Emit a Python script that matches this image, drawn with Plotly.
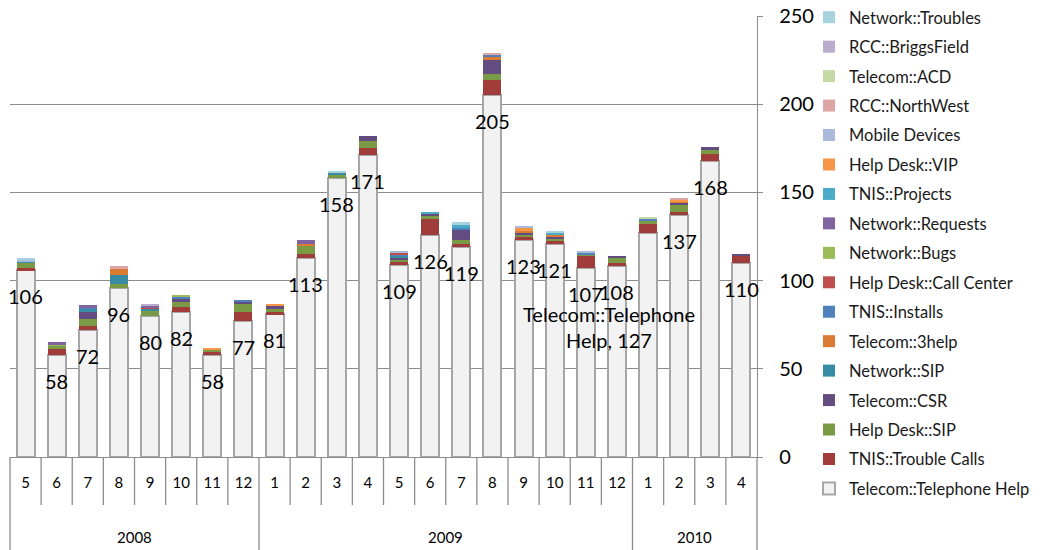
import plotly.graph_objects as go

# Monthly ticket counts by queue, May 2008 - April 2010
years = ["2008"] * 8 + ["2009"] * 12 + ["2010"] * 4
months = ["5", "6", "7", "8", "9", "10", "11", "12",
          "1", "2", "3", "4", "5", "6", "7", "8", "9", "10", "11", "12",
          "1", "2", "3", "4"]

telephone_help = [106, 58, 72, 96, 80, 82, 58, 77,
                  81, 113, 158, 171, 109, 126, 119, 205, 123, 121, 107, 108,
                  127, 137, 168, 110]
trouble_calls = [1, 3, 2, 0, 0, 3, 2, 5, 1, 2, 0, 4, 2, 9, 2, 9, 2, 2, 7, 2, 5, 2, 4, 4]
hd_sip = [3, 2, 4, 2, 3, 3, 1, 5, 2, 5, 2, 4, 1, 2, 2, 3, 1, 1, 1, 3, 2, 4, 2, 0]
telecom_csr = [0, 0, 4, 0, 0, 2, 0, 1, 2, 0, 0, 3, 1, 1, 6, 8, 1, 1, 0, 1, 0, 1, 2, 1]
network_sip = [1, 0, 2, 5, 1, 0, 0, 0, 0, 0, 1, 0, 1, 0, 0, 0, 0, 0, 0, 0, 0, 0, 0, 0]
telecom_3help = [0, 0, 0, 4, 0, 0, 0, 0, 0, 1, 0, 0, 0, 0, 0, 2, 1, 1, 0, 0, 0, 1, 0, 0]
tnis_installs = [0, 0, 1, 0, 0, 1, 0, 1, 0, 0, 0, 0, 1, 0, 1, 1, 0, 0, 1, 0, 1, 0, 0, 0]
call_center = [0, 0, 0, 0, 1, 0, 0, 0, 0, 0, 0, 0, 1, 0, 0, 0, 0, 0, 0, 0, 0, 0, 0, 0]
network_bugs = [0, 1, 0, 0, 0, 1, 0, 0, 0, 0, 0, 0, 0, 0, 0, 0, 0, 0, 0, 0, 0, 0, 0, 0]
network_requests = [0, 1, 1, 0, 1, 0, 0, 0, 0, 2, 0, 0, 0, 0, 0, 0, 0, 0, 0, 0, 0, 0, 0, 0]
tnis_projects = [0, 0, 0, 0, 0, 0, 0, 0, 0, 0, 0, 0, 0, 1, 2, 0, 0, 1, 0, 0, 0, 0, 0, 0]
hd_vip = [0, 0, 0, 0, 0, 0, 1, 0, 1, 0, 0, 0, 0, 0, 0, 0, 2, 0, 0, 0, 0, 1, 0, 0]
mobile_devices = [1, 0, 0, 0, 0, 0, 0, 0, 0, 0, 0, 0, 1, 0, 0, 0, 1, 0, 1, 0, 0, 0, 0, 0]
rcc_northwest = [0, 0, 0, 1, 0, 0, 0, 0, 0, 0, 0, 0, 0, 0, 0, 1, 0, 0, 0, 0, 0, 1, 0, 0]
telecom_acd = [0, 0, 0, 0, 0, 0, 0, 0, 0, 0, 0, 0, 0, 0, 0, 0, 0, 0, 0, 0, 1, 0, 0, 0]
rcc_briggsfield = [0, 0, 0, 0, 1, 0, 0, 0, 0, 0, 0, 0, 0, 0, 0, 0, 0, 0, 0, 0, 0, 0, 0, 0]
network_troubles = [1, 0, 0, 0, 0, 0, 0, 0, 0, 0, 1, 0, 0, 0, 1, 0, 0, 1, 0, 0, 0, 0, 0, 0]

# stacking order, bottom to top
series = [
    ("Telecom::Telephone Help", telephone_help, "#F2F2F2"),
    ("TNIS::Trouble Calls", trouble_calls, "#A03D3A"),
    ("Help Desk::SIP", hd_sip, "#7B9A45"),
    ("Telecom::CSR", telecom_csr, "#634D80"),
    ("Network::SIP", network_sip, "#378CA3"),
    ("Telecom::3help", telecom_3help, "#DB7A33"),
    ("TNIS::Installs", tnis_installs, "#4F81BD"),
    ("Help Desk::Call Center", call_center, "#C0504D"),
    ("Network::Bugs", network_bugs, "#9BBB59"),
    ("Network::Requests", network_requests, "#8064A2"),
    ("TNIS::Projects", tnis_projects, "#4BACC6"),
    ("Help Desk::VIP", hd_vip, "#F79646"),
    ("Mobile Devices", mobile_devices, "#A9BADA"),
    ("RCC::NorthWest", rcc_northwest, "#DDA6A5"),
    ("Telecom::ACD", telecom_acd, "#C6D9A5"),
    ("RCC::BriggsField", rcc_briggsfield, "#B9ACCC"),
    ("Network::Troubles", network_troubles, "#A8D2E0"),
]

W, H = 1051, 550
ML, MR, MT, MB = 10, 294, 16, 93
PLOT_W = W - ML - MR
PLOT_H = H - MT - MB
FONT = "Lato"
GRID = "#8C8C8C"
n = len(months)
idx = list(range(n))

fig = go.Figure()
for k, (name, vals, color) in enumerate(series):
    is_base = name == "Telecom::Telephone Help"
    fig.add_trace(go.Bar(
        x=idx, y=vals, name=name, legendgroup=name,
        legendrank=len(series) - k,  # top of the stack listed first
        marker=dict(color=color,
                    line=dict(color="#A6A6A6" if is_base else color,
                              width=2 if is_base else 0)),
    ))

annotations = []
# value labels for the base series
for i, v in enumerate(telephone_help):
    if i == 20:
        annotations.append(dict(
            x=i, y=v, xref="x", yref="y",
            text=f"Telecom::Telephone<br>Help, {v}",
            showarrow=False, xshift=-39, yshift=-94,
            font=dict(family=FONT, size=20, color="#000000")))
    else:
        annotations.append(dict(
            x=i, y=v, xref="x", yref="y", text=str(v),
            showarrow=False, yshift=-26,
            font=dict(family=FONT, size=20, color="#000000")))

# year groups below the month row
groups = []
for i, yv in enumerate(years):
    if not groups or groups[-1][0] != yv:
        groups.append([yv, i, i])
    else:
        groups[-1][2] = i

shapes = []
row_h = 48 / PLOT_H
full_h = MB / PLOT_H
for yv, a, b in groups:
    annotations.append(dict(
        x=(a + b) / 2, y=0, xref="x", yref="paper", text=yv,
        showarrow=False, yshift=-80, yanchor="middle",
        font=dict(family=FONT, size=15, color="#000000")))

boundaries = {g[1] for g in groups} | {n}
for k in range(n + 1):
    y0 = -full_h if k in boundaries else -row_h
    shapes.append(dict(
        type="line", xref="x domain", yref="paper",
        x0=k / n, x1=k / n, y0=0, y1=y0,
        line=dict(color=GRID, width=1.3)))

fig.update_layout(
    width=W, height=H,
    margin=dict(l=ML, r=MR, t=MT, b=MB, autoexpand=False),
    paper_bgcolor="white", plot_bgcolor="white",
    barmode="stack", bargap=0.42,
    font=dict(family=FONT, color="#000000"),
    xaxis=dict(
        range=[-0.5, n - 0.5], tickmode="array", tickvals=idx, ticktext=months,
        ticks="", showgrid=False, zeroline=False, automargin=False,
        showline=True, linecolor=GRID, linewidth=1.3,
        tickfont=dict(family=FONT, size=15, color="#000000"),
        ticklabelstandoff=12,
    ),
    yaxis=dict(
        side="right", range=[0, 250], dtick=50, automargin=False,
        showgrid=True, gridcolor=GRID, gridwidth=1.3,
        zeroline=False, showline=True, linecolor=GRID, linewidth=1.3,
        ticks="outside", ticklen=5, tickcolor=GRID,
        tickfont=dict(family=FONT, size=20, color="#000000"),
        ticklabelstandoff=12,
    ),
    legend=dict(
        xref="container", yref="container",
        x=809 / W, xanchor="left",
        y=1, yanchor="top",
        maxheight=H,
        traceorder="grouped", tracegroupgap=5,
        font=dict(family=FONT, size=16.5, color="#1A1A1A"),
        bgcolor="rgba(0,0,0,0)",
    ),
    annotations=annotations,
    shapes=shapes,
    showlegend=True,
)

fig.write_html("out.html")
